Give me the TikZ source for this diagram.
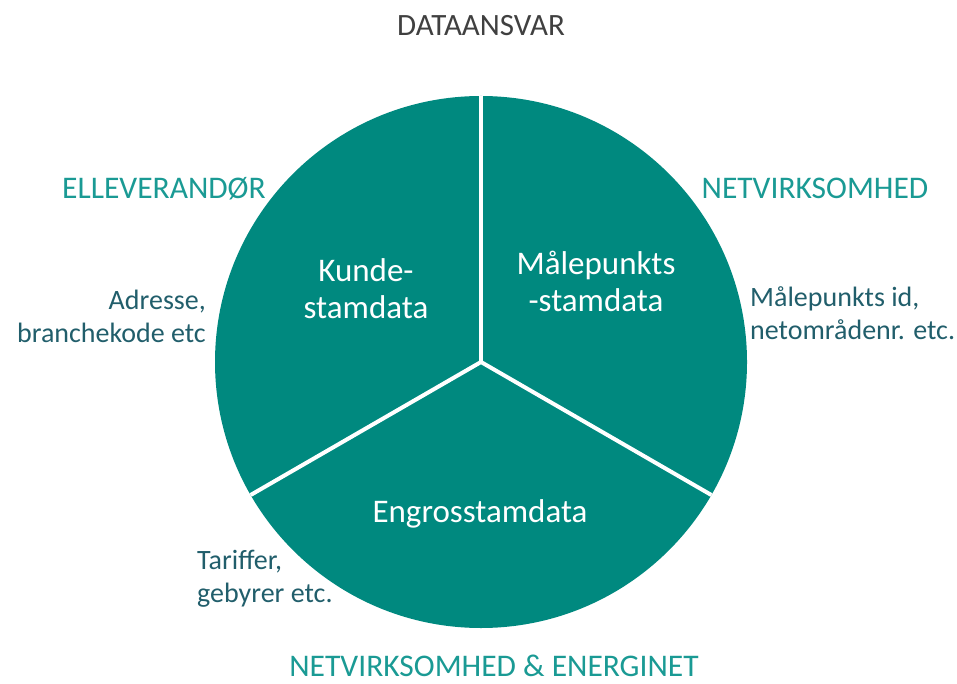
\documentclass[tikz,border=0pt]{standalone}
\usepackage{fontspec}
\setmainfont{Carlito}
\usetikzlibrary{positioning}
\definecolor{pie}{HTML}{00897F}
\definecolor{owner}{HTML}{1A9A94}
\definecolor{desc}{HTML}{215E6B}
\definecolor{heading}{HTML}{404040}

\begin{document}
\begin{tikzpicture}[x=1pt, y=-1pt,
  owner/.style={text=owner, font=\fontsize{31.5}{36}\selectfont, inner sep=0pt, anchor=base},
  desc/.style={text=desc, font=\fontsize{28}{33}\selectfont, inner sep=0pt},
  part/.style={text=white, font=\fontsize{33}{37}\selectfont, align=center, inner sep=0pt},
  split/.style={draw=white, line width=4pt}]
 \useasboundingbox (0,0) rectangle (957,684);
 % pie
 \coordinate (c) at (481,362);
 \fill [pie] (c) circle (266pt);
 \coordinate (top) at ([shift={(90:266pt)}]c);
 \coordinate (bl) at ([shift={(210:266pt)}]c);
 \coordinate (br) at ([shift={(-30:266pt)}]c);
 \draw [split] (c) -- (top);
 \draw [split] (c) -- (bl);
 \draw [split] (c) -- (br);
 % slices
 \node [part] (kunde) at (366,289) {Kunde-\\stamdata};
 \node [part] (maale) at (596,281) {Målepunkts\\-stamdata};
 \node [part] (engros) at (480,514) {Engrosstamdata};
 % owners
 \node [text=heading, font=\fontsize{31}{36}\selectfont, inner sep=0pt, anchor=base] (title) at (481,36) {DATAANSVAR};
 \node [owner] (elle) at (164,199) {ELLEVERANDØR};
 \node [owner] (net) at (815,199) {NETVIRKSOMHED};
 \node [owner] (netener) at (494,676) {NETVIRKSOMHED \& ENERGINET};
 % examples (base = last line)
 \node [desc, align=right, anchor=base east] (adr) at (206,342) {Adresse,\\branchekode etc};
 \node [desc, align=left, anchor=base west] (mid) at (750,339) {Målepunkts id,\\netområdenr. etc.};
 \node [desc, align=left, anchor=base west] (tarif) at (197,602) {Tariffer,\\gebyrer etc.};
\end{tikzpicture}
\end{document}
